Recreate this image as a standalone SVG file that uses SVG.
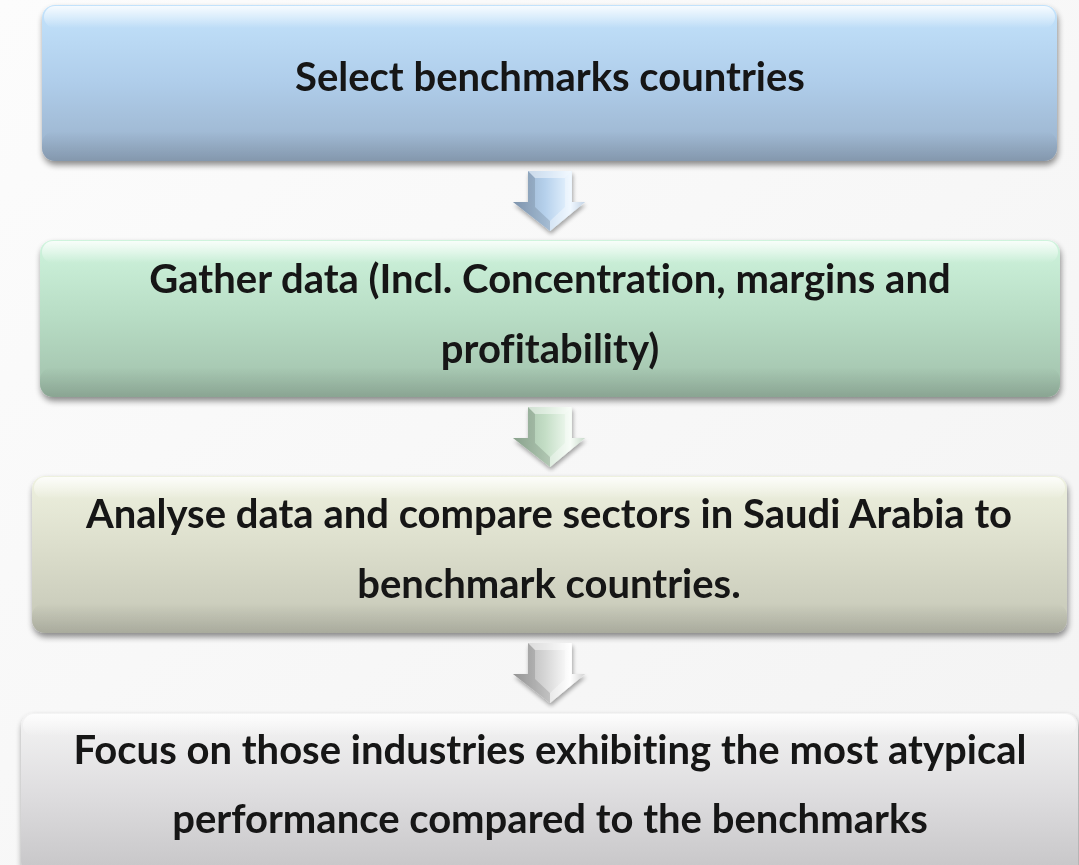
<svg xmlns="http://www.w3.org/2000/svg" width="1079" height="865" viewBox="0 0 1079 865">
  <defs>
    <style>
      .lbl { font-family: "Lato", "Open Sans", "Liberation Sans", sans-serif; font-weight: 700; font-size: 40px; fill: #141414; text-anchor: middle; font-variant-ligatures: none; }
    </style>
    <linearGradient id="bg" x1="0" y1="0" x2="1" y2="1">
      <stop offset="0" stop-color="#fcfcfc"/>
      <stop offset="1" stop-color="#f3f3f3"/>
    </linearGradient>
    <linearGradient id="gBlue" x1="0" y1="0" x2="0" y2="1">
      <stop offset="0" stop-color="#c3e3fc"/>
      <stop offset="0.5" stop-color="#afcdea"/>
      <stop offset="1" stop-color="#99b0c9"/>
    </linearGradient>
    <linearGradient id="gGreen" x1="0" y1="0" x2="0" y2="1">
      <stop offset="0" stop-color="#cff4dd"/>
      <stop offset="0.5" stop-color="#b7dcc4"/>
      <stop offset="1" stop-color="#a0bfaa"/>
    </linearGradient>
    <linearGradient id="gOlive" x1="0" y1="0" x2="0" y2="1">
      <stop offset="0" stop-color="#eef1df"/>
      <stop offset="0.5" stop-color="#dadcca"/>
      <stop offset="1" stop-color="#c4c6b6"/>
    </linearGradient>
    <linearGradient id="gGrey" x1="0" y1="0" x2="0" y2="1">
      <stop offset="0" stop-color="#f4f4f4"/>
      <stop offset="0.5" stop-color="#dedddf"/>
      <stop offset="1" stop-color="#c6c5c7"/>
    </linearGradient>
    <!-- top gloss band on each box -->
    <linearGradient id="gloss" x1="0" y1="0" x2="0" y2="1">
      <stop offset="0" stop-color="#ffffff" stop-opacity="0.85"/>
      <stop offset="1" stop-color="#ffffff" stop-opacity="0"/>
    </linearGradient>
    <linearGradient id="shade" x1="0" y1="0" x2="0" y2="1">
      <stop offset="0" stop-color="#000000" stop-opacity="0"/>
      <stop offset="1" stop-color="#000000" stop-opacity="0.14"/>
    </linearGradient>
    <!-- arrow bodies -->
    <linearGradient id="aBlue" x1="0" y1="0" x2="1" y2="0">
      <stop offset="0" stop-color="#8fa8c4"/>
      <stop offset="0.45" stop-color="#b6d1ec"/>
      <stop offset="0.8" stop-color="#e8f4ff"/>
      <stop offset="1" stop-color="#a5bdd8"/>
    </linearGradient>
    <linearGradient id="aGreen" x1="0" y1="0" x2="1" y2="0">
      <stop offset="0" stop-color="#9cb8a0"/>
      <stop offset="0.45" stop-color="#c4dec6"/>
      <stop offset="0.8" stop-color="#f3fbf3"/>
      <stop offset="1" stop-color="#adc8b0"/>
    </linearGradient>
    <linearGradient id="aGrey" x1="0" y1="0" x2="1" y2="0">
      <stop offset="0" stop-color="#a9a9a9"/>
      <stop offset="0.45" stop-color="#d6d6d6"/>
      <stop offset="0.8" stop-color="#ffffff"/>
      <stop offset="1" stop-color="#bdbdbd"/>
    </linearGradient>
    <filter id="drop" x="-5%" y="-10%" width="110%" height="130%">
      <feGaussianBlur in="SourceAlpha" stdDeviation="3"/>
      <feOffset dx="1" dy="4" result="b"/>
      <feComponentTransfer><feFuncA type="linear" slope="0.45"/></feComponentTransfer>
      <feMerge><feMergeNode/><feMergeNode in="SourceGraphic"/></feMerge>
    </filter>
    <filter id="dropA" x="-30%" y="-20%" width="160%" height="150%">
      <feGaussianBlur in="SourceAlpha" stdDeviation="2"/>
      <feOffset dx="1" dy="3"/>
      <feComponentTransfer><feFuncA type="linear" slope="0.35"/></feComponentTransfer>
      <feMerge><feMergeNode/><feMergeNode in="SourceGraphic"/></feMerge>
    </filter>
    <!-- bevel faces for a down arrow, 72 wide, 60 tall, origin at top-left -->
    <g id="arrowFaces">
      <polygon points="15,0 22,7 22,36 37,50 37,60 0,31 15,31" fill="#000" fill-opacity="0.12"/>
      <polygon points="59,0 52,7 52,36 37,50 37,60 72,31 59,31" fill="#fff" fill-opacity="0.35"/>
      <polygon points="15,0 59,0 52,7 22,7" fill="#fff" fill-opacity="0.45"/>
    </g>
  </defs>

  <rect x="0" y="0" width="1079" height="865" fill="url(#bg)"/>

  <g id="step1" filter="url(#drop)">
    <rect x="42" y="5" width="1015" height="156" rx="13" fill="url(#gBlue)"/>
    <rect x="44" y="6" width="1011" height="22" rx="11" fill="url(#gloss)"/>
    <rect x="42" y="131" width="1015" height="30" rx="13" fill="url(#shade)"/>
    <text class="lbl" x="550" y="91">Select benchmarks countries</text>
  </g>

  <g id="step2" filter="url(#drop)">
    <rect x="40" y="240" width="1020" height="157" rx="13" fill="url(#gGreen)"/>
    <rect x="42" y="241" width="1016" height="22" rx="11" fill="url(#gloss)"/>
    <rect x="40" y="367" width="1020" height="30" rx="13" fill="url(#shade)"/>
    <text class="lbl" x="550" y="293">Gather data (Incl. Concentration, margins and</text>
    <text class="lbl" x="550" y="363">profitability)</text>
  </g>

  <g id="step3" filter="url(#drop)">
    <rect x="32" y="476" width="1035" height="157" rx="13" fill="url(#gOlive)"/>
    <rect x="34" y="477" width="1031" height="22" rx="11" fill="url(#gloss)"/>
    <rect x="32" y="603" width="1035" height="30" rx="13" fill="url(#shade)"/>
    <text class="lbl" x="549" y="528">Analyse data and compare sectors in Saudi Arabia to</text>
    <text class="lbl" x="549" y="598">benchmark countries.</text>
  </g>

  <g id="step4" filter="url(#drop)">
    <rect x="21" y="713" width="1057" height="162" rx="13" fill="url(#gGrey)"/>
    <rect x="23" y="714" width="1053" height="22" rx="11" fill="url(#gloss)"/>
    <text class="lbl" x="550" y="764">Focus on those industries exhibiting the most atypical</text>
    <text class="lbl" x="550" y="833">performance compared to the benchmarks</text>
  </g>

  <g id="connectors">
    <g filter="url(#dropA)" transform="translate(513,171)">
      <polygon points="15,0 59,0 59,31 72,31 37,60 0,31 15,31" fill="url(#aBlue)"/>
      <use href="#arrowFaces"/>
    </g>
    <g filter="url(#dropA)" transform="translate(513,407)">
      <polygon points="15,0 59,0 59,31 72,31 37,60 0,31 15,31" fill="url(#aGreen)"/>
      <use href="#arrowFaces"/>
    </g>
    <g filter="url(#dropA)" transform="translate(513,643)">
      <polygon points="15,0 59,0 59,31 72,31 37,60 0,31 15,31" fill="url(#aGrey)"/>
      <use href="#arrowFaces"/>
    </g>
  </g>
</svg>
